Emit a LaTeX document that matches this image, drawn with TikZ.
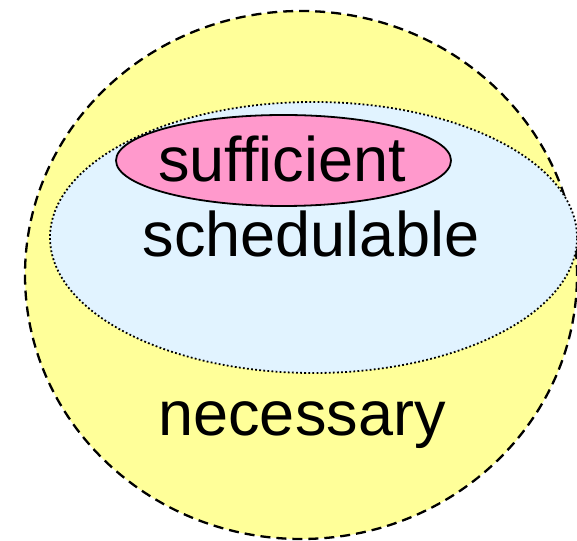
\documentclass[tikz,border=0pt]{standalone}
\usepackage{fontspec}
\setmainfont{Liberation Sans}
\definecolor{necfill}{RGB}{255,255,153}
\definecolor{schfill}{RGB}{225,243,255}
\definecolor{suffill}{RGB}{255,153,204}
\tikzset{
  setlabel/.style={font=\fontsize{63}{72}\selectfont, anchor=base, inner sep=0pt, text=black},
  necborder/.style={draw=black, line width=2.3pt, dash pattern=on 10pt off 6pt},
  schborder/.style={draw=black, line width=1.8pt, dash pattern=on 1.8pt off 2.3pt},
  sufborder/.style={draw=black, line width=1.8pt}
}
\begin{document}
\begin{tikzpicture}[x=1pt,y=1pt]
\useasboundingbox (0,0) rectangle (577,540);
% necessary set
\fill[necfill] (301,265) ellipse [x radius=276, y radius=264];
\draw[necborder] (301,265) ellipse [x radius=276, y radius=264];
% schedulable set
\fill[schfill] (313.5,302.5) ellipse [x radius=263.5, y radius=135.5];
\draw[schborder] (313.5,302.5) ellipse [x radius=263.5, y radius=135.5];
% sufficient set
\fill[suffill] (283.5,379.5) ellipse [x radius=167.5, y radius=45.5];
\draw[sufborder] (283.5,379.5) ellipse [x radius=167.5, y radius=45.5];
% labels
\node[setlabel] (suf) at (282,358) {sufficient};
\node[setlabel] (sch) at (311,283) {schedulable};
\node[setlabel] (nec) at (302,104) {necessary};
\end{tikzpicture}
\end{document}
